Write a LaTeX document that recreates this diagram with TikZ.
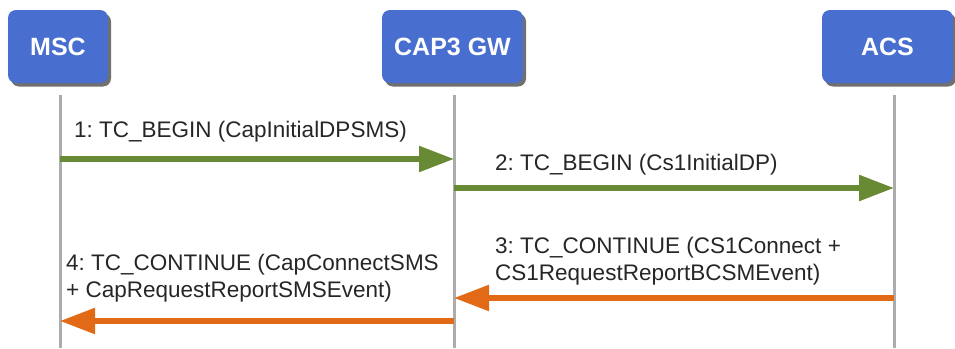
\documentclass[tikz,border=0pt]{standalone}
\usepackage{fontspec}
\setmainfont{Liberation Sans}
\usepackage{tikz}
\usetikzlibrary{arrows.meta,shadows}
\frenchspacing

\definecolor{boxblue}{RGB}{72,110,208}
\definecolor{msggreen}{RGB}{104,138,52}
\definecolor{msgorange}{RGB}{226,106,22}
\definecolor{lifegray}{RGB}{172,172,172}

\tikzset{
  entity/.style={draw=none, fill=boxblue, rounded corners=8pt, minimum height=73pt,
    text=white, font=\fontsize{25}{30}\selectfont\bfseries, inner sep=0,
    drop shadow={shadow xshift=3pt, shadow yshift=-3.5pt, opacity=0.7, fill=black!80}},
  lifeline/.style={draw=lifegray, line width=3pt},
  msgtext/.style={anchor=west, align=left, inner sep=0, text=black!85,
    font=\fontsize{22.5}{27}\selectfont},
  call/.style={draw=msggreen, line width=5.5pt, -{Triangle[length=35pt,width=25pt]}},
  reply/.style={draw=msgorange, line width=5.5pt, -{Triangle[length=35pt,width=25pt]}}
}

\begin{document}
\begin{tikzpicture}[x=1pt, y=-1pt]
      \useasboundingbox (0,0) rectangle (955,348);
      % participants
      \node[entity, minimum width=100pt] (msc) at (58,46.5) {MSC};
      \node[entity, minimum width=141pt] (gw) at (452.5,46.5) {CAP3 GW};
      \node[entity, minimum width=131pt] (acs) at (887.5,46.5) {ACS};
      % lifelines
      \coordinate (msc-top) at (60,95);
      \coordinate (msc-bot) at (60,348);
      \coordinate (gw-top) at (454,95);
      \coordinate (gw-bot) at (454,348);
      \coordinate (acs-top) at (894,95);
      \coordinate (acs-bot) at (894,348);
      \draw[lifeline] (msc-top) -- (msc-bot);
      \draw[lifeline] (gw-top) -- (gw-bot);
      \draw[lifeline] (acs-top) -- (acs-bot);
      % message ends
      \coordinate (m1s) at (60,159);
      \coordinate (m1e) at (454,159);
      \coordinate (m2s) at (454,188);
      \coordinate (m2e) at (894,188);
      \coordinate (m3s) at (894,298);
      \coordinate (m3e) at (454,298);
      \coordinate (m4s) at (454,321);
      \coordinate (m4e) at (60,321);
      \draw[call] (m1s) -- (m1e);
      \draw[call] (m2s) -- (m2e);
      \draw[reply] (m3s) -- (m3e);
      \draw[reply] (m4s) -- (m4e);
      % labels
      \node[msgtext] (t1) at (74,132) {1: TC\_BEGIN (CapInitialDPSMS)};
      \node[msgtext] (t2) at (495,165) {2: TC\_BEGIN (Cs1InitialDP)};
      \node[msgtext] (t3) at (495,261.5) {3: TC\_CONTINUE (CS1Connect +\\CS1RequestReportBCSMEvent)};
      \node[msgtext] (t4) at (66,278.5) {4: TC\_CONTINUE (CapConnectSMS\\+ CapRequestReportSMSEvent)};
\end{tikzpicture}
\end{document}
